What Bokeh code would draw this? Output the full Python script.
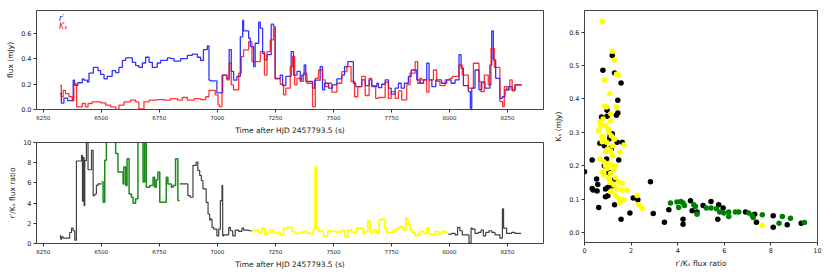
from bokeh.plotting import figure
from bokeh.layouts import row, column
from bokeh.models import Range1d, FixedTicker, PrintfTickFormatter, Label
from bokeh.embed import file_html
from bokeh.resources import INLINE

# ---------------- data ----------------
# r' flux (mJy): step start times (s) and values
r_t = [6322, 6328, 6339, 6355, 6379, 6385, 6399, 6418, 6425, 6440, 6447, 6466, 6486, 6497, 6512,
       6526, 6547, 6562, 6576, 6591, 6605, 6634, 6648, 6662, 6677, 6691, 6706, 6720, 6741, 6756,
       6785, 6799, 6813, 6842, 6871, 6892, 6914, 6928, 6940, 6957, 6964, 6970, 6998, 7023, 7041,
       7051, 7060, 7070, 7084, 7099, 7109, 7113, 7135, 7142, 7156, 7163, 7178, 7185, 7195, 7203,
       7214, 7232, 7242, 7249, 7271, 7281, 7295, 7318, 7328, 7343, 7357, 7364, 7374, 7381, 7410,
       7419, 7443, 7453, 7462, 7479, 7496, 7515, 7536, 7548, 7562, 7586, 7596, 7622, 7637, 7654,
       7665, 7687, 7694, 7708, 7723, 7737, 7749, 7766, 7780, 7792, 7806, 7823, 7835, 7859, 7873,
       7888, 7902, 7912, 7924, 7941, 7966, 7988, 8007, 8024, 8041, 8050, 8060, 8081, 8090, 8096,
       8110, 8127, 8139, 8153, 8174, 8182, 8189, 8199, 8217, 8227, 8239, 8253, 8270, 8282]
r_flux = [0.125, 0.05, 0.09, 0.07, 0.23, 0.19, 0.21, 0.24, 0.23, 0.215, 0.285, 0.33, 0.305, 0.275, 0.24,
          0.26, 0.305, 0.29, 0.33, 0.385, 0.405, 0.37, 0.345, 0.33, 0.365, 0.41, 0.37, 0.33, 0.365, 0.385,
          0.405, 0.40, 0.38, 0.40, 0.425, 0.435, 0.41, 0.385, 0.47, 0.50, 0.23, 0.225, 0.13, 0.27, 0.245,
          0.47, 0.30, 0.23, 0.26, 0.57, 0.70, 0.617, 0.56, 0.494, 0.337, 0.52, 0.685, 0.638, 0.44, 0.39,
          0.43, 0.67, 0.65, 0.245, 0.27, 0.188, 0.26, 0.455, 0.27, 0.30, 0.23, 0.27, 0.35, 0.22, 0.167,
          0.23, 0.337, 0.154, 0.206, 0.167, 0.193, 0.24, 0.27, 0.337, 0.376, 0.206, 0.18, 0.232, 0.188, 0.232,
          0.18, 0.206, 0.172, 0.198, 0.232, 0.167, 0.12, 0.167, 0.206, 0.167, 0.206, 0.26, 0.31, 0.232, 0.206,
          0.232, 0.363, 0.232, 0.18, 0.232, 0.206, 0.232, 0.206, 0.232, 0.43, 0.324, 0.188, 0.141, 0.01, 0.167,
          0.31, 0.154, 0.214, 0.167, 0.35, 0.617, 0.39, 0.245, 0.088, 0.10, 0.154, 0.18, 0.154, 0.193]
r_end = 8311

# Ks flux (mJy)
k_t = [6322, 6328, 6336, 6346, 6361, 6375, 6382, 6394, 6418, 6432, 6443, 6461, 6497, 6519, 6540,
       6562, 6576, 6598, 6626, 6648, 6662, 6684, 6706, 6741, 6770, 6799, 6828, 6849, 6871, 6900,
       6928, 6950, 6964, 6991, 7003, 7009, 7020, 7041, 7051, 7060, 7070, 7092, 7103, 7113, 7135,
       7149, 7185, 7203, 7214, 7228, 7242, 7249, 7271, 7285, 7295, 7314, 7324, 7333, 7343, 7357,
       7371, 7386, 7410, 7422, 7436, 7453, 7465, 7479, 7493, 7515, 7536, 7558, 7576, 7591, 7605,
       7622, 7637, 7654, 7665, 7682, 7694, 7723, 7737, 7749, 7766, 7780, 7794, 7816, 7830, 7852,
       7863, 7873, 7880, 7902, 7912, 7931, 7945, 7959, 7981, 8002, 8012, 8041, 8055, 8081, 8103,
       8127, 8136, 8150, 8167, 8179, 8193, 8217, 8229, 8236, 8246, 8260, 8270, 8282]
k_flux = [0.19, 0.10, 0.15, 0.125, 0.10, 0.07, 0.20, 0.02, 0.047, 0.02, 0.047, 0.06, 0.052, 0.034, 0.02,
          0.0, 0.034, 0.06, 0.073, 0.06, 0.005, 0.06, 0.073, 0.078, 0.073, 0.086, 0.073, 0.094, 0.073, 0.086,
          0.078, 0.10, 0.15, 0.115, 0.036, 0.023, 0.27, 0.232, 0.363, 0.193, 0.154, 0.285, 0.415, 0.468, 0.533,
          0.376, 0.455, 0.27, 0.455, 0.546, 0.638, 0.24, 0.198, 0.115, 0.167, 0.337, 0.415, 0.193, 0.245, 0.22,
          0.285, 0.206, 0.023, 0.245, 0.31, 0.232, 0.18, 0.206, 0.136, 0.206, 0.298, 0.337, 0.22, 0.10, 0.18,
          0.26, 0.11, 0.245, 0.188, 0.088, 0.094, 0.214, 0.088, 0.141, 0.088, 0.146, 0.075, 0.193, 0.285, 0.376,
          0.206, 0.245, 0.232, 0.136, 0.232, 0.31, 0.22, 0.188, 0.232, 0.245, 0.26, 0.35, 0.27, 0.167, 0.363,
          0.22, 0.141, 0.27, 0.193, 0.48, 0.33, 0.062, 0.023, 0.18, 0.154, 0.232, 0.146, 0.193]
k_end = 8311

# r'/Ks flux ratio, in coloured segments
ratio_black1_t = [6321, 6325, 6329, 6336, 6364, 6372, 6379, 6386, 6393, 6415, 6419, 6422, 6426, 6429,
                  6436, 6443, 6458, 6465, 6472, 6479, 6486]
ratio_black1 = [0.76, 0.43, 0.66, 0.53, 1.09, 1.53, 1.26, 0.33, 8.17, 8.73, 4.2, 8.5, 3.75, 8.2,
                10.5, 7.3, 9.23, 4.75, 4.9, 5.75, 5.9]
ratio_green_t = [6501, 6508, 6515, 6522, 6562, 6572, 6594, 6597, 6605, 6611, 6620, 6630, 6637, 6648,
                 6658, 6680, 6687, 6694, 6709, 6723, 6730, 6737, 6744, 6752, 6780, 6787, 6802, 6809,
                 6820, 6830]
ratio_green = [6.08, 4.08, 8.24, 10.5, 8.9, 7.07, 5.9, 7.57, 5.75, 8.4, 4.9, 4.58, 3.98, 4.42,
               10.5, 6.08, 10.5, 5.58, 5.75, 6.57, 5.58, 6.3, 7.07, 4.08, 6.57, 5.9, 5.58, 5.75,
               8.4, 4.25]
ratio_black2_t = [6838, 6873, 6883, 6895, 6909, 6916, 6924, 6931, 6938, 6952, 6960, 6967, 6970, 6977,
                  6984, 6998, 7006, 7013, 7020, 7023, 7027, 7049, 7056, 7066, 7077, 7092, 7106, 7113,
                  7135]
ratio_black2 = [5.9, 4.75, 4.58, 7.74, 8.07, 7.24, 6.74, 6.24, 5.41, 4.08, 2.92, 2.32, 2.42, 1.59,
                1.43, 0.76, 1.43, 4.25, 5.75, 0.76, 0.86, 1.59, 1.26, 0.76, 1.33, 1.2, 1.53, 1.33,
                1.26]
ratio_yellow_t = [7149, 7163, 7178, 7192, 7203, 7214, 7228, 7242, 7257, 7271, 7285, 7300, 7321, 7335,
                  7357, 7371, 7386, 7414, 7421, 7427, 7436, 7457, 7476, 7493, 7515, 7529, 7550, 7562,
                  7579, 7601, 7629, 7637, 7648, 7658, 7672, 7687, 7697, 7706, 7720, 7730, 7759, 7773,
                  7787, 7802, 7812, 7820, 7830, 7840, 7852, 7863, 7873, 7888, 7902, 7912, 7924, 7938,
                  7952, 7966, 7981]
ratio_yellow = [1.26, 1.33, 1.1, 1.53, 0.93, 1.1, 1.33, 1.0, 1.1, 0.86, 1.53, 1.59, 1.2, 1.0,
                1.1, 1.2, 1.0, 1.43, 7.57, 1.43, 1.2, 0.76, 1.26, 1.2, 1.1, 1.26, 0.66, 1.33,
                1.1, 1.53, 0.93, 1.2, 2.26, 1.1, 1.33, 1.0, 2.32, 2.42, 1.53, 1.1, 1.33, 1.53,
                1.66, 1.33, 2.52, 1.92, 1.33, 1.1, 0.76, 0.93, 1.2, 1.0, 1.53, 0.93, 0.86, 1.2,
                0.93, 1.2, 1.1]
ratio_black3_t = [7995, 8010, 8024, 8035, 8045, 8055, 8084, 8093, 8098, 8110, 8124, 8136, 8146, 8156,
                  8170, 8182, 8196, 8217, 8228, 8233, 8246, 8268, 8282]
ratio_black3 = [0.93, 1.0, 0.86, 1.59, 1.26, 0.86, 0.05, 1.53, 1.43, 1.0, 1.1, 1.33, 0.76, 1.1,
                1.26, 1.1, 0.86, 0.53, 3.42, 1.53, 1.0, 1.1, 1.0]
ratio_end = 8308

# scatter: Ks flux vs r'/Ks ratio
sc_black_x = [1.19, 0.79, 1.29, 1.57, 1.43, 0.97, 1.43, 1.37, 0.73, 0.97, 1.19, 1.09, 0.66, 1.09, 1.62,
              1.12, 1.47, 0.33, 0.0, 0.33, 0.52, 0.57, 0.54, 0.37, 0.90, 0.61, 1.29, 1.57, 2.09, 1.95,
              2.29, 2.83, 2.95, 3.43, 3.62, 4.23, 4.23, 4.55, 4.62, 4.83, 5.09, 5.43, 5.72, 5.76, 5.95,
              6.91, 7.3, 7.38, 8.1, 8.1, 8.7, 9.3, 0.95, 1.05, 1.2, 0.9, 1.0, 1.15, 0.85, 1.3, 1.4, 1.1,
              1.0, 0.85]
sc_black_y = [0.530, 0.486, 0.478, 0.448, 0.396, 0.366, 0.358, 0.351, 0.346, 0.348, 0.296, 0.281, 0.267, 0.282, 0.270,
              0.252, 0.217, 0.217, 0.182, 0.132, 0.160, 0.144, 0.124, 0.127, 0.107, 0.075, 0.083, 0.040, 0.103, 0.058,
              0.098, 0.152, 0.057, 0.031, 0.068, 0.040, 0.025, 0.095, 0.065, 0.061, 0.081, 0.093, 0.040, 0.083, 0.073,
              0.061, 0.055, 0.031, 0.050, 0.016, 0.023, 0.028, 0.22, 0.18, 0.14, 0.13, 0.11, 0.25, 0.26, 0.16, 0.27, 0.29,
              0.135, 0.20]
sc_yellow_x = [0.76, 1.19, 1.29, 1.37, 1.46, 0.86, 1.09, 0.86, 0.94, 1.37, 1.13, 0.80, 0.66, 0.90, 1.10,
               0.60, 1.04, 0.80, 0.76, 0.76, 1.26, 1.69, 0.90, 1.12, 1.52, 0.66, 0.83, 1.04, 1.19, 0.97,
               0.76, 0.83, 1.12, 1.26, 1.04, 1.33, 1.47, 1.26, 1.62, 1.12, 1.62, 1.33, 1.47, 1.83, 1.69,
               1.55, 2.26, 2.33, 2.48, 7.63, 1.0, 1.2, 0.9, 1.3, 1.1, 1.4, 1.5, 1.2, 0.95, 1.05, 1.15,
               0.7, 1.3]
sc_yellow_y = [0.633, 0.543, 0.517, 0.474, 0.472, 0.456, 0.416, 0.378, 0.376, 0.376, 0.356, 0.340, 0.330, 0.320, 0.335,
               0.305, 0.310, 0.286, 0.287, 0.272, 0.280, 0.262, 0.242, 0.244, 0.240, 0.220, 0.212, 0.207, 0.202, 0.192,
               0.182, 0.172, 0.177, 0.187, 0.162, 0.164, 0.152, 0.142, 0.147, 0.122, 0.127, 0.112, 0.103, 0.127, 0.097,
               0.093, 0.111, 0.083, 0.072, 0.021, 0.25, 0.23, 0.20, 0.20, 0.15, 0.13, 0.09, 0.26, 0.27, 0.30, 0.29,
               0.32, 0.28]
sc_green_x = [3.69, 3.97, 4.14, 4.23, 4.04, 4.29, 4.69, 4.76, 4.83, 5.23, 5.43, 5.66, 5.80, 5.98, 6.19,
              6.19, 6.48, 6.62, 7.05, 7.20, 7.24, 7.63, 8.35, 8.49, 8.84, 9.44]
sc_green_y = [0.088, 0.091, 0.093, 0.088, 0.075, 0.081, 0.083, 0.078, 0.055, 0.073, 0.073, 0.071, 0.061, 0.058, 0.061,
              0.048, 0.061, 0.061, 0.058, 0.051, 0.045, 0.053, 0.028, 0.048, 0.043, 0.030]

time_ticks = [6250, 6500, 6750, 7000, 7250, 7500, 7750, 8000, 8250]
flux_ticks = [0.0, 0.2, 0.4, 0.6]
ratio_ticks = [0, 2, 4, 6, 8, 10]
sc_x_ticks = [0, 2, 4, 6, 8, 10]
sc_y_ticks = [0.0, 0.1, 0.2, 0.3, 0.4, 0.5, 0.6]

FONT = "DejaVu Sans"


def step_xy(t, v, t_end):
    return list(t) + [t_end], list(v) + [v[-1]]


def style(p, tick_font="6.5px"):
    p.outline_line_color = "#444444"
    p.outline_line_width = 1
    p.xgrid.visible = False
    p.ygrid.visible = False
    p.background_fill_color = "white"
    p.border_fill_color = "white"
    for ax in p.axis:
        ax.axis_line_color = None
        ax.major_tick_out = 3
        ax.major_tick_in = 0
        ax.major_tick_line_color = "#333333"
        ax.minor_tick_line_color = None
        ax.major_label_text_font = FONT
        ax.major_label_text_font_size = tick_font
        ax.major_label_text_color = "#222222"
        ax.major_label_standoff = 2
        ax.axis_label_text_font = FONT
        ax.axis_label_text_font_size = "7.5px"
        ax.axis_label_text_font_style = "normal"
        ax.axis_label_text_color = "#222222"
        ax.axis_label_standoff = 3


x_start, x_stop = 6221, 8405

# ---------- top-left: fluxes ----------
p1 = figure(frame_width=507, frame_height=99, output_backend="svg", toolbar_location=None,
            x_range=Range1d(x_start, x_stop), y_range=Range1d(0.0, 0.777),
            min_border_left=36, min_border_right=5, min_border_top=10, min_border_bottom=30)
rx, ry = step_xy(r_t, r_flux, r_end)
kx, ky = step_xy(k_t, k_flux, k_end)
p1.step(rx, ry, mode="after", line_color="#0000ff", line_width=1.3, line_alpha=0.8)
p1.step(kx, ky, mode="after", line_color="#ff0000", line_width=1.3, line_alpha=0.8)
p1.xaxis.axis_label = "Time after HJD 2457793.5 (s)"
p1.yaxis.axis_label = "flux (mJy)"
style(p1)
p1.xaxis.ticker = FixedTicker(ticks=time_ticks)
p1.xaxis.major_label_text_font_size = "5.5px"
p1.yaxis.ticker = FixedTicker(ticks=flux_ticks)
p1.yaxis.formatter = PrintfTickFormatter(format="%.1f")
p1.add_layout(Label(x=6318, y=0.712, text="r′", text_color="#0000ff", text_font=FONT,
                    text_font_size="8px", text_font_style="italic", text_baseline="middle"))
p1.add_layout(Label(x=6318, y=0.655, text="Kₛ", text_color="#ff0000", text_font=FONT,
                    text_font_size="8px", text_font_style="italic", text_baseline="middle"))

# ---------- bottom-left: ratio ----------
p2 = figure(frame_width=507, frame_height=101, output_backend="svg", toolbar_location=None,
            x_range=Range1d(x_start, x_stop), y_range=Range1d(0, 10),
            min_border_left=36, min_border_right=5, min_border_top=3, min_border_bottom=30)
segs = [
    (ratio_black1_t, ratio_black1, ratio_green_t[0], "#000000", 0.75, 1.2),
    (ratio_green_t, ratio_green, ratio_black2_t[0], "#008000", 0.9, 1.5),
    (ratio_black2_t, ratio_black2, ratio_yellow_t[0], "#000000", 0.75, 1.2),
    (ratio_yellow_t, ratio_yellow, ratio_black3_t[0], "#ffff00", 1.0, 1.8),
    (ratio_black3_t, ratio_black3, ratio_end, "#000000", 0.75, 1.2),
]
for t, v, te, c, a, w in segs:
    sx, sy = step_xy(t, v, te)
    p2.step(sx, sy, mode="after", line_color=c, line_alpha=a, line_width=w)
p2.xaxis.axis_label = "Time after HJD 2457793.5 (s)"
p2.yaxis.axis_label = "r′/Kₛ flux ratio"
style(p2)
p2.xaxis.ticker = FixedTicker(ticks=time_ticks)
p2.xaxis.major_label_text_font_size = "5.5px"
p2.yaxis.ticker = FixedTicker(ticks=ratio_ticks)

# ---------- right: scatter ----------
p3 = figure(frame_width=233, frame_height=232, output_backend="svg", toolbar_location=None,
            x_range=Range1d(0, 10), y_range=Range1d(-0.03, 0.665),
            min_border_left=36, min_border_right=8, min_border_top=10, min_border_bottom=30)
p3.scatter(sc_black_x, sc_black_y, size=5.5, fill_color="#000000", line_color=None)
p3.scatter(sc_yellow_x, sc_yellow_y, size=5.5, fill_color="#ffff00", line_color=None)
p3.scatter(sc_green_x, sc_green_y, size=5.5, fill_color="#008000", line_color=None)
p3.xaxis.axis_label = "r′/Kₛ flux ratio"
p3.yaxis.axis_label = "Kₛ (mJy)"
style(p3)
p3.xaxis.ticker = FixedTicker(ticks=sc_x_ticks)
p3.yaxis.ticker = FixedTicker(ticks=sc_y_ticks)
p3.yaxis.formatter = PrintfTickFormatter(format="%.1f")

layout = row(column(p1, p2), p3)
open("out.html", "w").write(file_html(layout, INLINE))
